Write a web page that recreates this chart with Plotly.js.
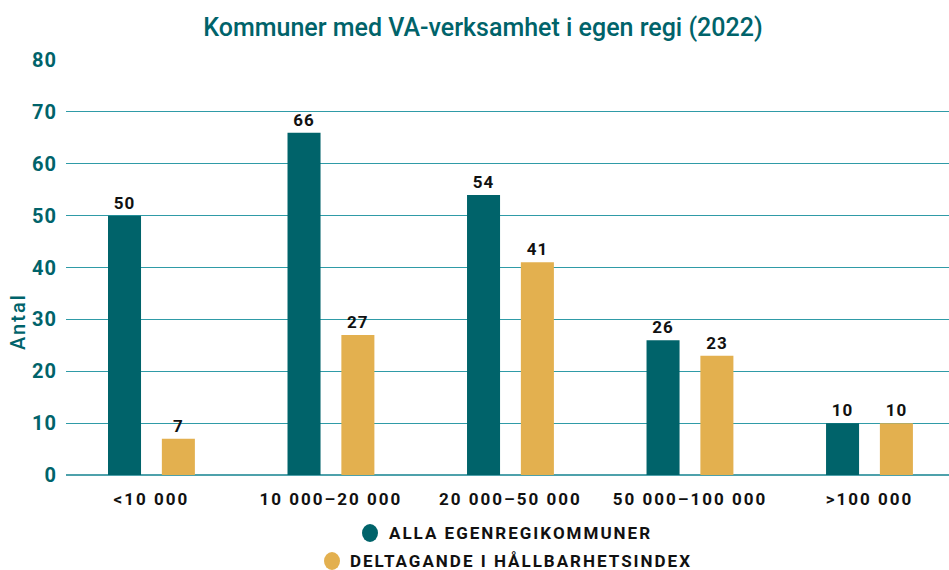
<!DOCTYPE html>
<html><head><meta charset="utf-8">
<script src="https://cdn.plot.ly/plotly-3.0.1.min.js"></script>
<style>
body{margin:0;background:#fff}#c{width:949px;height:570px}
#c .xtick text{letter-spacing:2px}
#c .ytick text{letter-spacing:1px}
#c .bars text{letter-spacing:1px}
#c .annotation-text{letter-spacing:2px}
</style>
</head><body><div id="c"></div>
<script>
const categories = ['<10 000', '10 000–20 000', '20 000–50 000', '50 000–100 000', '>100 000'];
const allaValues = [50, 66, 54, 26, 10];
const deltagandeValues = [7, 27, 41, 23, 10];
const seriesNames = ['ALLA EGENREGIKOMMUNER', 'DELTAGANDE I HÅLLBARHETSINDEX'];
const yTicks = [0, 10, 20, 30, 40, 50, 60, 70, 80];

const teal = '#00636A', gold = '#E3B04F';
const idx = categories.map((_, i) => i);
const bw = 0.184;
const fontFam = 'Roboto, "Noto Sans", sans-serif';

const traces = [
  {type:'bar', x: idx, y: allaValues, width: bw, offset: -0.150 - bw/2, name: seriesNames[0],
   marker:{color: teal}, text: allaValues.map(String), textposition:'outside',
   textfont:{color:'#111', size:17, family: fontFam, weight: 700}, cliponaxis:false,
   hoverinfo:'y'},
  {type:'bar', x: idx, y: deltagandeValues, width: bw, offset: 0.150 - bw/2, name: seriesNames[1],
   marker:{color: gold}, text: deltagandeValues.map(String), textposition:'outside',
   textfont:{color:'#111', size:17, family: fontFam, weight: 700}, cliponaxis:false,
   hoverinfo:'y'}
];

// plot area: x 66..949, y 60..475 (pixels)
const px = v => (v - 66) / 883;
const py = v => (475 - v) / 415;
const legendFont = {size:17, color:'#111', family: fontFam, weight: 700};
const legendItems = [
  {name: seriesNames[0], color: teal, dotX: 370, textC: 520, y: 533},
  {name: seriesNames[1], color: gold, dotX: 332, textC: 521, y: 561}
];

const layout = {
  width: 949, height: 570,
  margin: {l: 66, r: 0, t: 60, b: 95},
  paper_bgcolor:'#fff', plot_bgcolor:'#fff',
  font: {family: fontFam},
  showlegend: false,
  title: {text: 'Kommuner med VA-verksamhet i egen regi (2022)', x: 483/949, xanchor:'center',
          xref:'container', y: 1 - 27/570, yanchor:'middle',
          font: {size: 25, color: teal, family: fontFam, weight: 500}},
  barmode: 'group',
  xaxis: {
    range: [-0.476, 4.443], tickvals: idx, ticktext: categories,
    showgrid:false, zeroline:false, showline:false, ticks:'',
    tickfont: {size: 17, color:'#111', family: fontFam, weight: 700},
    ticklabelstandoff: 12,
    fixedrange:true
  },
  yaxis: {
    range: [0, 80], tickvals: yTicks, showgrid: true, gridcolor:'#2f9ba7', gridwidth:1.2,
    zeroline: true, zerolinecolor:'#4ea1ab', zerolinewidth: 1.8,
    tickfont: {size: 20, color: teal, family: fontFam, weight: 700},
    ticks:'', ticklabelstandoff: 8,
    fixedrange:true
  },
  annotations: [
    {xref:'paper', yref:'paper', x: px(18), y: py(322), xanchor:'center', yanchor:'middle',
     text:'Antal', textangle:-90, showarrow:false,
     font:{size:20, color: teal, family: fontFam, weight: 500}}
  ].concat(legendItems.map(it => ({
     xref:'paper', yref:'paper', x: px(it.textC), y: py(it.y), xanchor:'center', yanchor:'middle',
     text: it.name, showarrow:false, font: legendFont}))),
  shapes: legendItems.map(it => ({
     type:'circle', xref:'paper', yref:'paper', xsizemode:'pixel', ysizemode:'pixel',
     xanchor: px(it.dotX), yanchor: py(it.y), x0:-8, x1:8, y0:-9, y1:9,
     fillcolor: it.color, line:{width:0}
  }))
};

Plotly.newPlot('c', traces, layout, {displayModeBar:false, staticPlot:true});
</script></body></html>
